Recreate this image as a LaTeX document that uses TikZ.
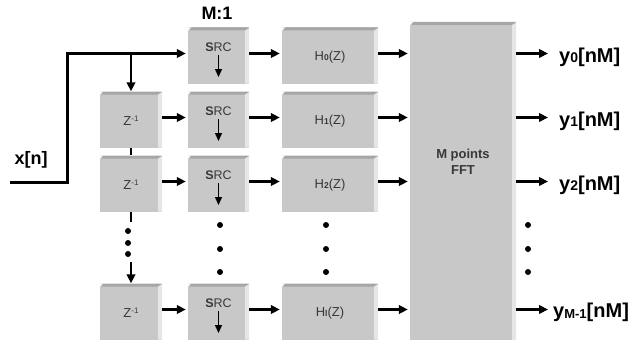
\documentclass[tikz,border=0pt]{standalone}
\usepackage{fontspec}
\setmainfont{Liberation Sans}
\usetikzlibrary{arrows.meta}
\definecolor{face}{HTML}{C8C8C8}
\definecolor{topc}{HTML}{A6A6A6}
\definecolor{sidec}{HTML}{E6E6E6}
\definecolor{txt}{HTML}{383838}
\begin{document}
\begin{tikzpicture}[x=1pt,y=-1pt,
  blk/.style={fill=face, inner sep=0pt, minimum height=56pt, text=txt,
    path picture={
      \fill[topc] (path picture bounding box.north west) -- (path picture bounding box.north east)
        -- ([xshift=-4pt,yshift=-3pt]path picture bounding box.north east)
        -- ([xshift=2pt,yshift=-3pt]path picture bounding box.north west) -- cycle;
      \fill[white] (path picture bounding box.north west) -- ([xshift=3pt]path picture bounding box.north west)
        -- ([yshift=-3pt]path picture bounding box.north west) -- cycle;
      \fill[sidec] ([xshift=-4pt,yshift=-3pt]path picture bounding box.north east)
        -- ([yshift=-1pt]path picture bounding box.north east)
        -- (path picture bounding box.south east)
        -- ([xshift=-4pt]path picture bounding box.south east) -- cycle;
    }},
  btxt/.style={text=txt, inner sep=0pt, font=\fontsize{13}{15}\selectfont},
  arr/.style={line width=2.4pt, -{Triangle[length=9pt,width=8.5pt]}},
  darr/.style={line width=1.4pt, -{Triangle[length=8pt,width=7pt]}},
  plain/.style={line width=2.6pt},
  inl/.style={line width=3pt, line join=miter},
  big/.style={font=\fontsize{18}{20}\selectfont\bfseries, inner sep=0pt},
  ylab/.style={font=\fontsize{20}{22}\selectfont\bfseries, inner sep=0pt, anchor=west},
  dot/.style={fill=black}
]
\useasboundingbox (0,0) rectangle (634,345);

% SRC column
\foreach \r/\y in {0/55.5,1/119.5,2/183.5,3/311.5}{
  \node[blk,minimum width=61pt] (s\r) at (218.5,\y) {};
  \node[btxt,font=\fontsize{12.5}{14}\selectfont] (st\r) at ([yshift=8.5pt]s\r.center) {\textbf{S}RC};
  \coordinate (sa\r) at ([yshift=0.5pt]s\r.center);
  \coordinate (sb\r) at ([yshift=-21.5pt]s\r.center);
  \draw[darr] (sa\r) -- (sb\r);
}

% Z^-1 column
\node[blk,minimum width=62pt] (z1) at (131,119.5) {};
\node[blk,minimum width=62pt] (z2) at (131,183.5) {};
\node[blk,minimum width=62pt] (z3) at (131,311.5) {};
\foreach \r in {1,2,3}{
  \node[btxt] (zt\r) at ([yshift=-1pt]z\r.center) {Z{\fontsize{8}{8}\selectfont\raisebox{4.5pt}{-1}}};
}

% H column
\node[blk,minimum width=96pt] (h0) at (330,55.5) {};
\node[blk,minimum width=96pt] (h1) at (330,119.5) {};
\node[blk,minimum width=96pt] (h2) at (330,183.5) {};
\node[blk,minimum width=96pt] (h3) at (330,311.5) {};
\node[btxt] (ht0) at ([yshift=-2pt]h0.center) {H{\fontsize{8.5}{8}\selectfont\bfseries 0}(Z)};
\node[btxt] (ht1) at ([yshift=-2pt]h1.center) {H{\fontsize{8.5}{8}\selectfont\bfseries 1}(Z)};
\node[btxt] (ht2) at ([yshift=-2pt]h2.center) {H{\fontsize{8.5}{8}\selectfont\bfseries 2}(Z)};
\node[btxt] (ht3) at ([yshift=-2pt]h3.center) {H{\fontsize{8.5}{8}\selectfont\bfseries l}(Z)};

% FFT
\node[blk,minimum width=106pt,minimum height=318pt] (fft) at (463,181) {};
\node[btxt,font=\fontsize{13}{16}\selectfont\bfseries,align=center] (fftt) at (463,162) {M points\\FFT};

% labels
\node[big] (m1) at (217,13) {M:1};
\node[big] (xn) at (31,160) {x[n]};

% input
\coordinate (xin) at (10,182);
\coordinate (bend) at (67,53.5);
\coordinate (br) at (131,53.5);
\draw[inl,-{Triangle[length=9pt,width=8.5pt]},shorten >=2pt] (xin) -| (bend) -- ([yshift=2pt]s0.west);
\draw[arr] (br) -- (z1.north);
\draw[plain] (z1.south) -- (z2.north);
\coordinate (zd1) at (131,222);
\coordinate (zd2) at (131,262);
\draw[plain] (z2.south) -- (zd1);
\draw[arr] (zd2) -- (z3.north);
\foreach \yy in {231,243,254}{ \fill[dot] (128,\yy) circle (3pt); }

% row connectors
\foreach \r in {1,2,3}{
  \draw[arr,shorten >=2pt] ([yshift=2pt]z\r.east) -- ([yshift=2pt]s\r.west);
}
\foreach \r in {0,1,2,3}{
  \draw[arr,shorten >=2pt] ([yshift=2pt]s\r.east) -- ([yshift=2pt]h\r.west);
  \draw[arr,shorten >=2pt] ([yshift=2pt]h\r.east) -- ([yshift=2pt]h\r.east -| fft.west);
}

% outputs
\foreach \r/\y in {0/53.5,1/117.5,2/181.5,3/309.5}{
  \coordinate (o\r) at (548,\y);
  \draw[arr] (fft.east |- o\r) -- (o\r);
}
\node[ylab] (y0) at (559,57) {y{\fontsize{14}{14}\selectfont\raisebox{-0.5pt}{0}}[nM]};
\node[ylab] (y1) at (559,121) {y{\fontsize{14}{14}\selectfont\raisebox{-0.5pt}{1}}[nM]};
\node[ylab] (y2) at (559,185) {y{\fontsize{14}{14}\selectfont\raisebox{-0.5pt}{2}}[nM]};
\node[ylab] (y3) at (553,312.5) {y{\fontsize{13}{13}\selectfont\raisebox{-0.5pt}{M-1}}[nM]};

% dots
\foreach \xx in {220,326,528}{
  \foreach \yy in {225,249,272}{ \fill[dot] (\xx,\yy) circle (3pt); }
}
\end{tikzpicture}
\end{document}
